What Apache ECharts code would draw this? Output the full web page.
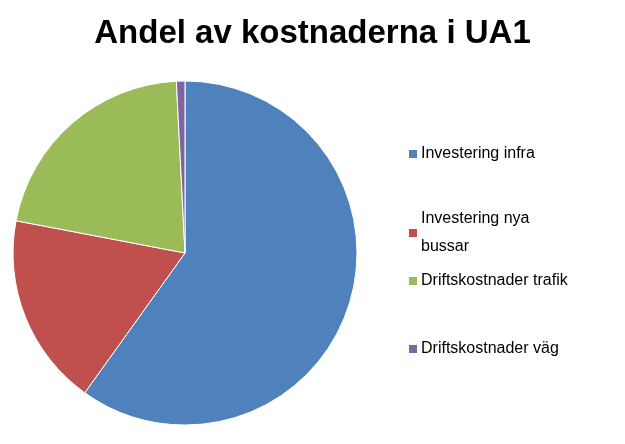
<!DOCTYPE html>
<html><head><meta charset="utf-8">
<script src="https://cdn.jsdelivr.net/npm/echarts@6/dist/echarts.min.js"></script>
<style>html,body{margin:0;padding:0;background:#fff}#c{width:625px;height:444px}</style>
</head><body><div id="c"></div>
<script>
const categories = ["Investering infra", "Investering nya\nbussar", "Driftskostnader trafik", "Driftskostnader väg"];
const values = [59.9, 18.1, 21.2, 0.8];
const colors = ["#4F81BD", "#C0504D", "#9BBB59", "#8064A2"];
const legendTops = [135, 200, 262, 330];
const chart = echarts.init(document.getElementById('c'));
chart.setOption({
  animation: false,
  color: colors,
  title: { text: "Andel av kostnaderna i UA1", left: 'center', top: 12,
    textStyle: { fontFamily: 'Liberation Sans', fontWeight: 'bold', fontSize: 33, color: '#000' } },
  legend: categories.map((c, i) => ({
    data: [c], left: 402, top: legendTops[i], orient: 'vertical',
    icon: 'rect', itemWidth: 10, itemHeight: 10, itemGap: 0,
    textStyle: { fontFamily: 'Liberation Sans', fontSize: 16, color: '#000', lineHeight: 28, padding: [0,0,0,-2] },
    selectedMode: false
  })),
  series: [{
    type: 'pie', center: [185, 253], radius: 172, startAngle: 90, clockwise: true,
    label: { show: false }, labelLine: { show: false },
    itemStyle: { borderColor: '#fff', borderWidth: 1 },
    data: categories.map((c, i) => ({ name: c, value: values[i] }))
  }]
});
</script></body></html>
